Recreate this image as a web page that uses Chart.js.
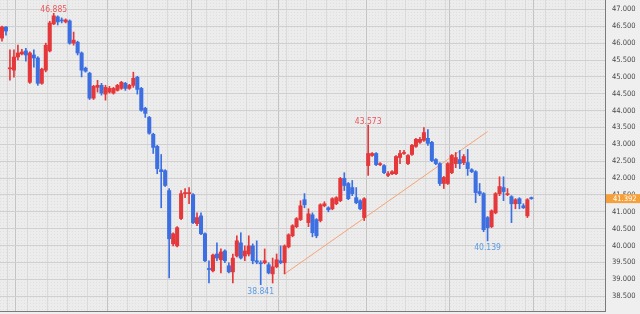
<!DOCTYPE html>
<html>
<head>
<meta charset="utf-8">
<script src="https://cdn.jsdelivr.net/npm/chart.js@4.4.1/dist/chart.umd.min.js"></script>
<style>
  html, body { margin: 0; padding: 0; background: #efefef; }
  canvas { display: block; }
</style>
</head>
<body>
<canvas id="c" width="640" height="314"></canvas>
<script>
// daily candles, oldest first (red = up, blue = down)
const openV = [
  46.15, 46.48, 45.24, 45.20, 45.59, 45.68, 45.77, 44.84, 45.65, 45.56,
  44.81, 45.20, 45.77, 46.57, 46.78, 46.69, 46.63, 46.66, 46.00, 46.03,
  45.71, 45.26, 45.11, 44.37, 44.69, 44.75, 44.49, 44.55, 44.52, 44.60,
  44.66, 44.81, 44.66, 44.75, 44.99, 44.66, 44.07, 43.80, 43.30, 42.94,
  42.25, 42.22, 41.63, 40.05, 39.99, 40.80, 41.54, 41.54, 41.51, 40.65,
  40.88, 40.35, 39.32, 39.25, 39.75, 39.58, 39.84, 39.40, 39.22, 39.69,
  40.08, 39.69, 39.75, 39.99, 39.55, 39.49, 39.49, 39.43, 39.16, 39.37,
  39.55, 39.49, 39.96, 40.29, 40.56, 40.77, 41.36, 40.68, 40.91, 40.77,
  40.74, 41.18, 41.12, 41.09, 41.24, 41.33, 41.99, 41.84, 41.72, 41.42,
  41.33, 40.83, 42.37, 42.67, 42.73, 42.40, 42.37, 42.08, 42.13, 42.13,
  42.61, 42.73, 42.43, 42.70, 42.94, 43.06, 43.12, 43.18, 43.06, 42.55,
  42.43, 41.84, 41.84, 42.16, 42.43, 42.55, 42.46, 42.46, 42.25, 42.19,
  41.60, 41.54, 40.83, 40.56, 40.97, 41.54, 41.72, 41.51, 41.45, 41.24,
  41.39, 41.18, 40.88, 41.42
];
const highV = [
  46.51, 46.49, 45.80, 45.80, 45.94, 45.82, 45.85, 45.74, 45.80, 45.60,
  45.26, 46.00, 46.65, 46.885, 46.81, 46.75, 46.72, 46.69, 46.33, 46.06,
  45.74, 45.29, 45.14, 44.75, 44.90, 44.81, 44.75, 44.72, 44.69, 44.78,
  44.87, 44.84, 44.78, 45.14, 45.02, 44.69, 44.10, 43.83, 43.33, 42.97,
  42.70, 42.25, 41.69, 40.38, 40.56, 41.63, 41.69, 41.72, 41.54, 40.97,
  40.97, 40.38, 39.55, 39.75, 40.08, 39.90, 39.87, 39.49, 39.75, 40.29,
  40.38, 39.99, 40.29, 40.05, 40.14, 39.55, 39.90, 39.49, 39.63, 39.75,
  39.99, 40.02, 40.35, 40.62, 40.83, 41.33, 41.54, 41.09, 40.97, 40.80,
  41.24, 41.30, 41.15, 41.42, 41.45, 42.02, 42.16, 41.87, 41.93, 41.72,
  41.36, 41.42, 43.573, 42.76, 42.76, 42.46, 42.40, 42.19, 42.22, 42.67,
  42.82, 42.82, 42.70, 43.00, 43.18, 43.21, 43.50, 43.44, 43.09, 42.58,
  42.46, 42.05, 42.46, 42.70, 42.76, 42.82, 42.70, 42.85, 42.28, 42.22,
  41.84, 41.57, 40.86, 41.06, 41.57, 42.04, 42.04, 41.69, 41.48, 41.39,
  41.42, 41.24, 41.39, 41.44
];
const lowV = [
  46.06, 46.24, 44.90, 44.99, 45.50, 45.65, 45.47, 44.81, 45.29, 44.75,
  44.78, 45.15, 45.74, 46.55, 46.54, 46.60, 46.60, 45.97, 45.94, 45.65,
  45.00, 45.14, 44.33, 44.33, 44.55, 44.46, 44.31, 44.52, 44.49, 44.58,
  44.63, 44.60, 44.63, 44.69, 44.49, 43.98, 43.80, 43.30, 42.73, 42.13,
  41.12, 41.75, 39.04, 39.99, 39.96, 40.77, 41.42, 41.24, 40.65, 40.59,
  40.32, 39.52, 38.89, 39.22, 39.55, 39.19, 39.49, 39.19, 38.89, 39.66,
  39.60, 39.55, 39.69, 39.46, 39.46, 38.841, 39.46, 39.16, 38.89, 39.34,
  39.46, 39.16, 39.93, 40.26, 40.53, 40.74, 41.12, 40.56, 40.26, 40.23,
  40.70, 41.15, 41.00, 41.06, 41.21, 41.30, 41.63, 41.36, 41.48, 41.24,
  41.06, 40.74, 42.08, 42.64, 42.37, 42.37, 42.13, 42.04, 42.10, 42.10,
  42.43, 42.70, 42.40, 42.67, 42.91, 43.03, 43.09, 42.97, 42.49, 42.40,
  41.78, 41.69, 41.81, 42.13, 42.31, 42.28, 42.40, 42.08, 42.16, 41.27,
  41.48, 40.41, 40.139, 40.53, 40.94, 41.48, 41.33, 41.48, 40.68, 41.09,
  41.09, 41.10, 40.83, 41.37
];
const closeV = [
  46.48, 46.36, 45.26, 45.59, 45.71, 45.74, 45.65, 45.71, 45.56, 44.81,
  45.23, 45.94, 46.60, 46.81, 46.63, 46.66, 46.69, 46.00, 46.09, 45.71,
  45.20, 45.17, 44.37, 44.72, 44.75, 44.52, 44.69, 44.66, 44.66, 44.75,
  44.84, 44.66, 44.75, 44.96, 44.63, 44.01, 43.92, 43.33, 42.91, 42.28,
  42.19, 41.78, 40.20, 40.35, 40.53, 41.54, 41.57, 41.57, 40.68, 40.83,
  40.35, 39.55, 39.29, 39.72, 39.63, 39.81, 39.55, 39.22, 39.63, 40.14,
  39.63, 39.84, 39.99, 39.55, 39.51, 39.46, 39.55, 39.19, 39.37, 39.58,
  39.49, 39.99, 40.32, 40.59, 40.80, 41.18, 41.21, 40.94, 40.38, 40.29,
  41.21, 41.24, 41.06, 41.39, 41.42, 41.99, 41.78, 41.39, 41.54, 41.27,
  41.09, 41.39, 42.73, 42.73, 42.40, 42.43, 42.16, 42.13, 42.19, 42.64,
  42.73, 42.76, 42.67, 42.97, 43.15, 43.15, 43.35, 43.03, 42.52, 42.43,
  41.84, 42.02, 42.43, 42.67, 42.61, 42.43, 42.64, 42.28, 42.19, 41.57,
  41.54, 40.47, 40.53, 41.03, 41.54, 41.75, 41.60, 41.54, 41.24, 41.36,
  41.24, 41.12, 41.36, 41.392
];

// slots on the time axis: candles plus the empty room on the right
const SLOT_COUNT = 152;
const slots = Array.from({ length: SLOT_COUNT }, (_, i) => String(i + 1));

// month and week separators (slot index where the new period starts)
const monthStarts = [4, 27, 48, 70, 92, 113, 134];
const weekPhase = 2;

// y ticks
const yMin = 38.06, yMax = 47.28, yStep = 0.5;

// trend line drawn on the chart (slot index, price)
const trendIdx = [71, 122];
const trendVal = [39.16, 43.38];

// high / low marks
const markIdx = [13, 92, 65, 122];
const markVal = [46.885, 43.573, 38.841, 40.139];
const markText = ["46.885", "43.573", "38.841", "40.139"];
const markSide = ["top", "top", "bottom", "bottom"];

const lastPrice = 41.392;

const UP = "#e5383b", DOWN = "#3b6fe2";
const candleColors = openV.map((o, i) => closeV[i] >= o ? UP : DOWN);
const bodies = openV.map((o, i) => [o, closeV[i]]);
const wicks = lowV.map((l, i) => [l, highV[i]]);
const trendData = slots.map(() => null);
trendIdx.forEach((k, j) => trendData[k] = trendVal[j]);

const narrow = '"Liberation Sans Narrow", "DejaVu Sans Condensed", "Liberation Sans", sans-serif';

// fine dotted texture behind the plot
function makePattern(ctx) {
  const p = document.createElement("canvas");
  p.width = 3; p.height = 3;
  const g = p.getContext("2d");
  g.fillStyle = "#ececec"; g.fillRect(0, 0, 3, 3);
  g.fillStyle = "#e0e0e0"; g.fillRect(0, 0, 1, 1);
  return ctx.createPattern(p, "repeat");
}

const bgPlugin = {
  id: "bg",
  beforeDraw(chart) {
    const { ctx, chartArea: a } = chart;
    ctx.save();
    ctx.fillStyle = "#efefef";
    ctx.fillRect(0, 0, chart.width, chart.height);
    ctx.fillStyle = makePattern(ctx);
    ctx.fillRect(a.left, a.top, a.right - a.left, a.bottom - a.top);
    ctx.restore();
  }
};

const markPlugin = {
  id: "marks",
  afterDraw(chart) {
    const { ctx, chartArea: a } = chart;
    const xs = chart.scales.x, ys = chart.scales.y;
    ctx.save();
    ctx.font = "8.5px " + narrow;
    ctx.textAlign = "center";
    markIdx.forEach((k, j) => {
      const x = xs.getPixelForValue(k);
      const y = ys.getPixelForValue(markVal[j]);
      if (markSide[j] === "top") {
        ctx.fillStyle = "#e9585b";
        ctx.textBaseline = "bottom";
        ctx.fillText(markText[j], x, y + 1);
      } else {
        ctx.fillStyle = "#5b9be6";
        ctx.textBaseline = "top";
        ctx.fillText(markText[j], x, y + 3);
      }
    });
    // last price tag on the axis
    const py = ys.getPixelForValue(lastPrice);
    ctx.fillStyle = "#f5a03a";
    ctx.fillRect(a.right + 1, py - 4.5, chart.width - a.right - 1, 9);
    ctx.fillStyle = "#ffffff";
    ctx.font = "7.5px " + narrow;
    ctx.textAlign = "left";
    ctx.textBaseline = "middle";
    ctx.fillText(lastPrice.toFixed(3), a.right + 8, py + 0.5);
    ctx.restore();
  }
};

new Chart(document.getElementById("c"), {
  type: "bar",
  data: {
    labels: slots,
    datasets: [
      { label: "body", data: bodies, backgroundColor: candleColors, barThickness: 3.4,
        minBarLength: 1, grouped: false, order: 0 },
      { label: "wick", data: wicks, backgroundColor: candleColors, barThickness: 1,
        grouped: false, order: 1 },
      { type: "line", label: "trend", data: trendData, borderColor: "#f6a477", borderWidth: 1,
        pointRadius: 0, spanGaps: true, order: 2 }
    ]
  },
  options: {
    responsive: false,
    animation: false,
    layout: { padding: { left: 0, top: 0, right: 0, bottom: 3 } },
    plugins: { legend: { display: false }, tooltip: { enabled: false } },
    scales: {
      x: {
        offset: true,
        ticks: { display: false, autoSkip: false },
        grid: {
          offset: true,
          drawTicks: false,
          color: c => monthStarts.includes(c.index) ? "#c4c4c4"
            : ((c.index - weekPhase) % 5 === 0 ? "#dadada" : "rgba(0,0,0,0)")
        },
        border: { color: "#7a7a7a" }
      },
      y: {
        position: "right",
        min: yMin, max: yMax,
        ticks: {
          stepSize: yStep, includeBounds: false, padding: 7, color: "#4a4a4a",
          font: { size: 7.5, family: narrow },
          callback: v => Number(v).toFixed(3)
        },
        grid: { color: "#d0d0d0", drawTicks: false },
        border: { color: "#7a7a7a" },
        afterFit(s) { s.width = 35; s.paddingTop = 0; s.paddingBottom = 0; }
      }
    }
  },
  plugins: [bgPlugin, markPlugin]
});
</script>
</body>
</html>
